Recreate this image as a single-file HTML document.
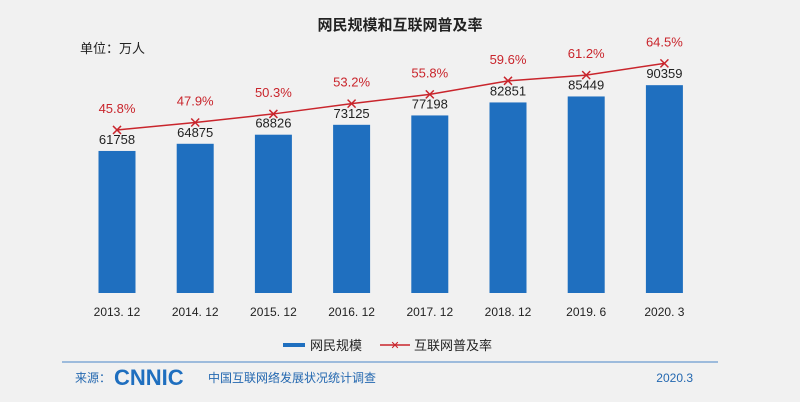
<!DOCTYPE html>
<html><head><meta charset="utf-8"><style>
body{margin:0;width:800px;height:402px;background:#f1f1f1;overflow:hidden;font-family:"Liberation Sans","Noto Sans CJK SC",sans-serif}
svg{display:block}
</style></head><body>
<svg id="c" width="800" height="402">
<text x="400" y="30" text-anchor="middle" font-size="15" font-weight="bold" fill="#222">网民规模和互联网普及率</text>
<text x="80" y="53" font-size="13" fill="#222">单位：万人</text>
<g id="bars"></g><g id="line"></g><g id="xlabels"></g>
<g>
<rect x="283" y="343" width="22" height="4" fill="#1f6fbf"/>
<text x="310" y="350" font-size="13" fill="#222">网民规模</text>
<line x1="380" y1="345" x2="410" y2="345" stroke="#c9252c" stroke-width="1.5"/>
<text x="395" y="349" text-anchor="middle" font-size="11" fill="#c9252c">✕</text>
<text x="414" y="350" font-size="13" fill="#222">互联网普及率</text>
</g>
<line x1="62" y1="362" x2="718" y2="362" stroke="#9dbbdc" stroke-width="2"/>
<text x="75" y="382" font-size="12" fill="#2468b0">来源：</text>
<text x="114" y="385" font-size="22" font-weight="bold" fill="#1f6fbf">CNNIC</text>
<text x="208" y="382" font-size="12" fill="#2468b0">中国互联网络发展状况统计调查</text>
<text x="693" y="382" text-anchor="end" font-size="12" fill="#2468b0">2020.3</text>
</svg>
<script>
const categories=["2013. 12","2014. 12","2015. 12","2016. 12","2017. 12","2018. 12","2019. 6","2020. 3"];
const users=[61758,64875,68826,73125,77198,82851,85449,90359];
const rates=[45.8,47.9,50.3,53.2,55.8,59.6,61.2,64.5];
const NS="http://www.w3.org/2000/svg";
const x=i=>117+i*78.2;
const yBar=v=>293-v*0.0023;
const yRate=p=>293-p*3.56;
function mk(t,a,p){const e=document.createElementNS(NS,t);for(const k in a)e.setAttribute(k,a[k]);p.appendChild(e);return e;}
const B=document.getElementById('bars'),L=document.getElementById('line'),X=document.getElementById('xlabels');
users.forEach((v,i)=>{
const r=mk('rect',{x:x(i)-18.5,y:yBar(v),width:37,height:293-yBar(v),fill:'#1f6fbf'},B);


const t=mk('text',{x:x(i),y:yBar(v)-7,'text-anchor':'middle','font-size':13,fill:'#222'},B);t.textContent=v;


const xl=mk('text',{x:x(i),y:316,'text-anchor':'middle','font-size':12,fill:'#222'},X);xl.textContent=categories[i];


});
const pl=mk('polyline',{points:rates.map((p,i)=>x(i)+','+yRate(p)).join(' '),fill:'none',stroke:'#c9252c','stroke-width':1.5},L);


rates.forEach((p,i)=>{
const cx=x(i),cy=yRate(p);
const m=mk('path',{d:`M${cx-4},${cy-4}L${cx+4},${cy+4}M${cx-4},${cy+4}L${cx+4},${cy-4}`,stroke:'#c9252c','stroke-width':1.5},L);


const t=mk('text',{x:cx,y:cy-17,'text-anchor':'middle','font-size':13,fill:'#c9252c'},L);t.textContent=p.toFixed(1)+'%';


});
</script>
</body></html>
